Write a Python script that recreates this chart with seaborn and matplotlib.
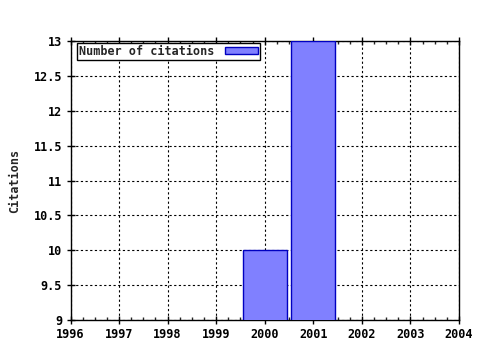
import matplotlib
matplotlib.use("Agg")
import matplotlib.pyplot as plt
import seaborn as sns
import pandas as pd
from matplotlib.ticker import MultipleLocator

years = [2000, 2001]
citations = [10, 13]
series_label = "Number of citations"
x_ticks = [1996, 1997, 1998, 1999, 2000, 2001, 2002, 2003, 2004]
y_ticks = [9, 9.5, 10, 10.5, 11, 11.5, 12, 12.5, 13]

sns.set_style("white")
plt.rcParams['font.family'] = ['DejaVu Sans Mono']
plt.rcParams['font.weight'] = 'bold'

df = pd.DataFrame({"year": years, "citations": citations})

fig = plt.figure(figsize=(4.8, 3.5), dpi=100)
ax = fig.add_axes([70.5/480, 1 - 320/350, (459-70.5)/480, (320-41)/350])

sns.barplot(data=df, x="year", y="citations", native_scale=True, width=0.9,
            color="#8080ff", saturation=1, edgecolor="#0000c0", linewidth=1.0,
            label=series_label, ax=ax, zorder=3)

ax.set_xlim(1996, 2004)
ax.set_ylim(9, 13)
ax.set_xticks(x_ticks)
ax.set_xticklabels([str(t) for t in x_ticks])
ax.set_yticks(y_ticks)
ax.set_yticklabels([f"{t:g}" for t in y_ticks])
ax.xaxis.set_minor_locator(MultipleLocator(0.25))

ax.grid(True, which="major", linestyle=(0, (2, 2.2)), color="black", linewidth=0.8, zorder=0)
ax.set_axisbelow(True)
for s in ax.spines.values():
    s.set_color("black")
    s.set_linewidth(1.0)
ax.tick_params(axis="y", which="major", direction="inout", length=6, width=1,
               left=True, right=False, labelsize=8.5, colors="black", pad=3)
ax.tick_params(axis="x", which="major", direction="inout", length=6, width=1,
               top=True, bottom=True, labelsize=8.5, colors="black", pad=3)
ax.tick_params(axis="x", which="minor", direction="in", length=2.5, width=1, top=True, bottom=True)
for lab in ax.get_xticklabels() + ax.get_yticklabels():
    lab.set_fontweight("bold")

ax.set_xlabel("")
ax.set_ylabel("Citations", fontsize=8.5, fontweight="bold")
ax.yaxis.set_label_coords(-0.145, 0.5)
ax.yaxis.label.set_position((0, 0.5))
ax.yaxis.set_label_coords((15 - 70.5) / (459 - 70.5), 0.5)
ax.yaxis.label.set_verticalalignment("center")

leg = ax.legend(loc="upper left", bbox_to_anchor=(6.5/388.5, 1 - 2/279), markerfirst=False,
                fancybox=False, framealpha=1, edgecolor="black",
                handlelength=2.8, handleheight=0.55, borderpad=0.15, borderaxespad=0,
                handletextpad=0.9, prop={"weight": "bold", "size": 8.5})
leg.get_frame().set_linewidth(1.0)

fig.savefig("out.png", dpi=100)
